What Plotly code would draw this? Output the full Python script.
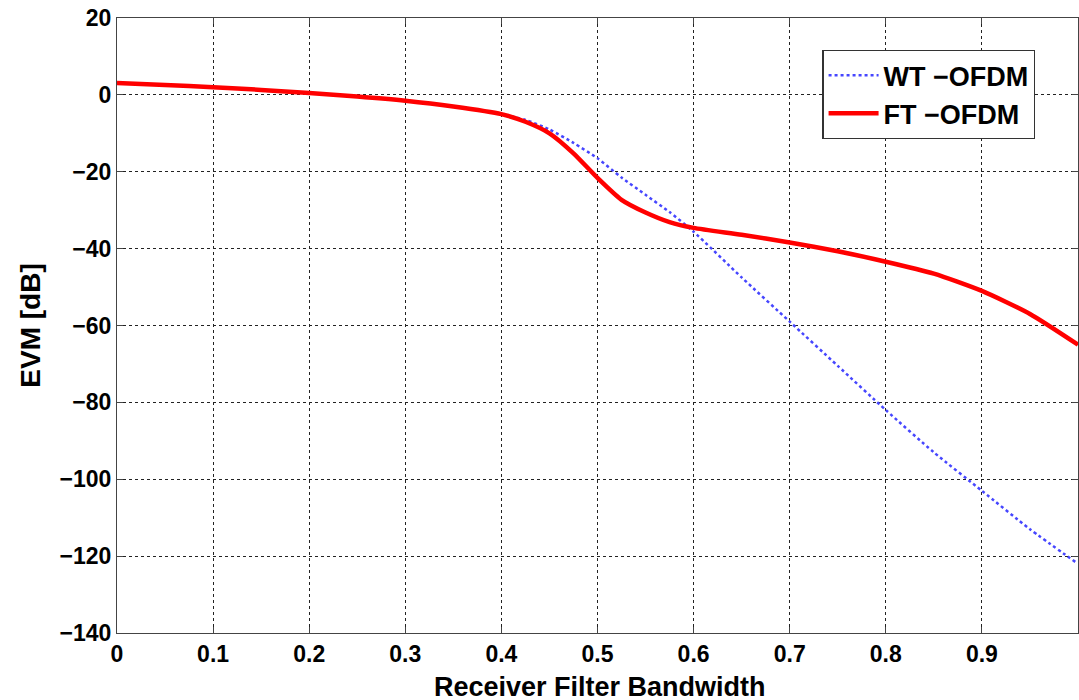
import plotly.graph_objects as go

bandwidth = [0, 0.05, 0.1, 0.15, 0.2, 0.25, 0.3, 0.35, 0.4, 0.425, 0.45, 0.475,
             0.5, 0.525, 0.55, 0.575, 0.6, 0.65, 0.7, 0.75, 0.8, 0.85, 0.9, 0.95, 1.0]
evm_ft = [3.1, 2.6, 2.0, 1.3, 0.5, -0.4, -1.5, -3.0, -5.0, -7.0, -10.0, -15.2,
          -21.6, -27.3, -30.6, -33.1, -34.6, -36.4, -38.4, -40.7, -43.4, -46.5, -51.0, -57.0, -65.0]
evm_wt = [3.1, 2.6, 2.0, 1.3, 0.5, -0.4, -1.5, -3.0, -5.0, -6.5, -9.0, -12.5,
          -16.5, -21.5, -26.0, -30.5, -35.6, -47.5, -59.0, -70.5, -82.0, -93.0, -103.0, -113.0, -122.0]

x_ticks = [0, 0.1, 0.2, 0.3, 0.4, 0.5, 0.6, 0.7, 0.8, 0.9, 1]
y_ticks = [20, 0, -20, -40, -60, -80, -100, -120, -140]

FONT = "Liberation Sans, Arial, sans-serif"

fig = go.Figure()
fig.add_trace(go.Scatter(x=bandwidth, y=evm_wt, mode="lines", name="<b>WT \u2212OFDM</b>",
                         line=dict(color="rgb(70,70,255)", width=2.5, dash="dot",
                                   shape="spline", smoothing=0.6)))
fig.add_trace(go.Scatter(x=bandwidth, y=evm_ft, mode="lines", name="<b>FT \u2212OFDM</b>",
                         line=dict(color="rgb(255,0,0)", width=4.5,
                                   shape="spline", smoothing=0.6)))

axis_common = dict(showline=True, linecolor="#444", linewidth=1.2, mirror="ticks",
                   ticks="inside", ticklen=6, tickcolor="#444",
                   showgrid=True, gridcolor="#222", griddash="dot", gridwidth=1,
                   zeroline=False, tickfont=dict(family=FONT, size=23, color="black"))

fig.update_xaxes(range=[0, 1], tickvals=x_ticks,
                 ticktext=[f"<b>{v:g}</b>" for v in x_ticks],
                 **axis_common)
fig.update_yaxes(range=[-140, 20], tickvals=y_ticks,
                 ticktext=[f"<b>{v:g}</b>".replace("-", "\u2212") for v in y_ticks],
                 title=dict(text="<b>EVM [dB]</b>", font=dict(family=FONT, size=28, color="black"), standoff=10),
                 **axis_common)

fig.add_annotation(text="<b>Receiver Filter Bandwidth</b>", xref="paper", yref="paper",
                   x=0.503, y=-0.0605, xanchor="center", yanchor="top", showarrow=False,
                   font=dict(family=FONT, size=27, color="black"))

fig.update_layout(
    width=1079, height=700,
    margin=dict(l=117, r=1, t=18, b=67, autoexpand=False),
    plot_bgcolor="white", paper_bgcolor="white",
    showlegend=True,
    legend=dict(x=0.734, y=0.948, xanchor="left", yanchor="top",
                bgcolor="white", bordercolor="#333", borderwidth=1.2,
                font=dict(family=FONT, size=27, color="black"),
                itemwidth=50, tracegroupgap=0),
)

fig.write_html("out.html", config={"displayModeBar": False},
               post_script="document.body.style.margin='0';document.body.style.overflow='hidden';")
